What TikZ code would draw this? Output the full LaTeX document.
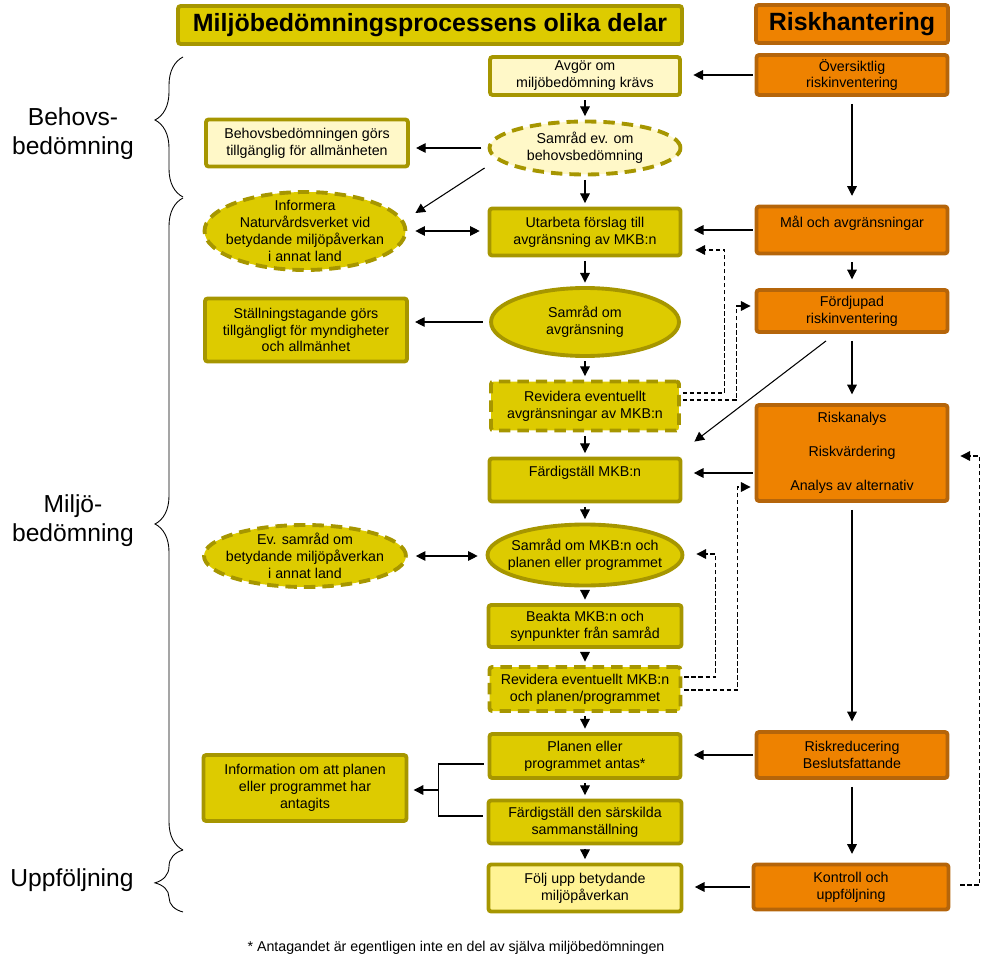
\documentclass[tikz,border=0pt]{standalone}
\usepackage{fontspec}
\setmainfont{Liberation Sans}
\usetikzlibrary{shapes.geometric,arrows.meta,calc,decorations.pathreplacing}
\definecolor{mkbgul}{HTML}{DDCB00}
\definecolor{mkbkant}{HTML}{A69600}
\definecolor{mkbljus}{HTML}{FFF8C8}
\definecolor{mkbljus2}{HTML}{FFF394}
\definecolor{riskorange}{HTML}{EE8200}
\definecolor{riskkant}{HTML}{B5650A}

\begin{document}
\begin{tikzpicture}[x=0.02cm, y=-0.02cm,
    box/.style = {draw=mkbkant, fill=mkbgul, line width=2.2pt, rounded corners=1.5pt, align=center, font=\fontsize{8.1}{9.6}\selectfont, inner sep=1pt},
    ljus/.style = {fill=mkbljus},
    rund/.style = {ellipse, rounded corners=0pt, inner sep=-6pt},
    streckad/.style = {dash pattern=on 6.5pt off 4pt},
    risk/.style = {box, draw=riskkant, fill=riskorange},
    rubrik/.style = {font=\fontsize{14.2}{16}\selectfont\bfseries},
    fas/.style = {align=center, font=\fontsize{14}{16.5}\selectfont},
    pil/.style = {-{Triangle[length=5.5pt,width=5.5pt]}, line width=0.6pt},
    dubbelpil/.style = {{Triangle[length=5.5pt,width=5.5pt]}-{Triangle[length=5.5pt,width=5.5pt]}, line width=0.6pt},
    aterpil/.style = {pil, dash pattern=on 2.5pt off 1.5pt},
    klammer/.style = {decorate, decoration={brace, amplitude=0.56cm, aspect=#1}, line width=0.5pt}]
                \useasboundingbox (0,0) rectangle (1003,966);
                % rubriker
                \node[box, rubrik, minimum width=10.08cm, minimum height=0.76cm] (titel) at (430,25) {Miljöbedömningsprocessens olika delar};
                \node[risk, rubrik, minimum width=3.84cm, minimum height=0.76cm] (riskhant) at (852,24) {Riskhantering};
                % mittkolumnen
                \node[box, ljus, minimum width=3.8cm, minimum height=0.76cm] (avgor) at (585,76) {Avgör om\\miljöbedömning krävs};
                \node[box, rund, ljus, streckad, minimum width=3.82cm, minimum height=1.06cm] (samradev) at (585,148) {Samråd ev. om\\behovsbedömning};
                \node[box, minimum width=3.82cm, minimum height=0.94cm] (utarbeta) at (585,232) {Utarbeta förslag till\\avgränsning av MKB:n};
                \node[box, rund, minimum width=3.76cm, minimum height=1.36cm] (samradavgr) at (585,322) {Samråd om\\avgränsning};
                \node[box, streckad, minimum width=3.76cm, minimum height=0.98cm] (revidera1) at (585,406) {Revidera eventuellt\\avgränsningar av MKB:n};
                \node[box, minimum width=3.82cm, minimum height=0.86cm] (fardigmkb) at (585,480) {Färdigställ MKB:n\\\mbox{}};
                \node[box, rund, minimum width=3.9cm, minimum height=1.22cm] (samradmkb) at (585,555) {Samråd om MKB:n och\\planen eller programmet};
                \node[box, minimum width=3.86cm, minimum height=0.84cm] (beakta) at (585,626) {Beakta MKB:n och\\synpunkter från samråd};
                \node[box, streckad, minimum width=3.82cm, minimum height=0.88cm] (revidera2) at (585,689) {Revidera eventuellt MKB:n\\och planen/programmet};
                \node[box, minimum width=3.82cm, minimum height=0.88cm] (antas) at (585,756) {Planen eller\\programmet antas*};
                \node[box, minimum width=3.86cm, minimum height=0.86cm] (sammanst) at (585,822) {Färdigställ den särskilda\\sammanställning};
                \node[box, fill=mkbljus2, minimum width=3.86cm, minimum height=0.94cm] (foljupp) at (585,888) {Följ upp betydande\\miljöpåverkan};
                % vänsterkolumnen
                \node[box, ljus, minimum width=4.04cm, minimum height=0.94cm] (behovtillg) at (307,143) {Behovsbedömningen görs\\tillgänglig för allmänheten};
                \node[box, rund, streckad, minimum width=4.02cm, minimum height=1.56cm] (informera) at (305,231) {Informera\\Naturvårdsverket vid\\betydande miljöpåverkan\\i annat land};
                \node[box, minimum width=4.04cm, minimum height=1.26cm] (stallning) at (306,330) {Ställningstagande görs\\tillgängligt för myndigheter\\och allmänhet};
                \node[box, rund, streckad, minimum width=4.04cm, minimum height=1.24cm] (evsamrad) at (305,556) {Ev. samråd om\\betydande miljöpåverkan\\i annat land};
                \node[box, minimum width=4.06cm, minimum height=1.32cm] (information) at (305,788) {Information om att planen\\eller programmet har\\antagits};
                % riskkolumnen
                \node[risk, minimum width=3.82cm, minimum height=0.8cm] (oversikt) at (852,75) {Översiktlig\\riskinventering};
                \node[risk, minimum width=3.82cm, minimum height=0.94cm] (malavgr) at (852,230) {Mål och avgränsningar\\\mbox{}};
                \node[risk, minimum width=3.82cm, minimum height=0.84cm] (fordjupad) at (852,311) {Fördjupad\\riskinventering};
                \node[risk, minimum width=3.82cm, minimum height=1.92cm] (riskanalys) at (852,453) {Riskanalys\\[9.6pt]Riskvärdering\\[9.6pt]Analys av alternativ};
                \node[risk, minimum width=3.82cm, minimum height=0.92cm] (riskred) at (852,755) {Riskreducering\\Beslutsfattande};
                \node[risk, minimum width=3.9cm, minimum height=0.9cm] (kontroll) at (851,887) {Kontroll och\\uppföljning};
                % faser
                \node[fas] (behovs) at (73,134) {Behovs-\\bedömning};
                \node[fas] (miljo) at (73,521) {Miljö-\\bedömning};
                \node[fas] (uppf) at (72,880) {Uppföljning};
                \draw[klammer=0.55] (183,197) -- (183,57);
                \draw[klammer=0.5] (183,850) -- (183,198);
                \draw[klammer=0.47] (183,912) -- (183,850);
                \node[font=\fontsize{8.1}{9.6}\selectfont] (fotnot) at (456,948) {* Antagandet är egentligen inte en del av själva miljöbedömningen};
                % pilar
                \path[pil, shorten <=2pt, shorten >=2pt]
                    (avgor) edge (samradev)
                    (samradev) edge (utarbeta)
                    (utarbeta) edge (samradavgr)
                    (samradavgr) edge (revidera1)
                    (revidera1) edge (fardigmkb)
                    (fardigmkb) edge (samradmkb)
                    (samradmkb) edge (beakta)
                    (beakta) edge (revidera2)
                    (revidera2) edge (antas)
                    (antas) edge (sammanst)
                    (sammanst) edge (foljupp);
                \path[pil, shorten <=4pt, shorten >=5pt]
                    (oversikt) edge (malavgr)
                    (malavgr) edge (fordjupad)
                    (fordjupad) edge (riskanalys)
                    (riskanalys) edge (riskred)
                    (riskred.south) edge (riskred.south |- kontroll.north);
                \coordinate (ra) at ($(riskanalys.west)+(0,20)$);
                \path[pil, shorten <=1pt, shorten >=6.5pt]
                    (oversikt.west) edge (oversikt.west -| avgor.east)
                    (malavgr.west) edge (malavgr.west -| utarbeta.east)
                    (ra) edge (ra -| fardigmkb.east)
                    (riskred.west) edge (riskred.west -| antas.east)
                    (kontroll.west) edge (kontroll.west -| foljupp.east);
                \path[pil, shorten <=3.5pt, shorten >=3.5pt]
                    (samradev.west) edge (samradev.west -| behovtillg.east)
                    (samradavgr.west) edge (samradavgr.west -| stallning.east);
                \path[dubbelpil, shorten <=4.5pt, shorten >=4.5pt]
                    (informera.east) edge (informera.east -| utarbeta.west)
                    (evsamrad.east) edge (evsamrad.east -| samradmkb.west);
                \draw[pil] ($(samradev.west)+(-3,20)$) -- ($(informera.east)+(8,-18)$);
                \draw[pil] ($(fordjupad.south)+(-26,7)$) -- ($(fardigmkb.north east)+(12,-15)$);
                % återkoppling
                \draw[aterpil] ($(revidera1.east)+(2,-13)$) -- ++(42,0) |- ($(utarbeta.east)+(13,18)$);
                \draw[aterpil] ($(revidera1.east)+(2,-6)$) -- ++(54,0) |- ($(fordjupad.west)+(-4,-5)$);
                \draw[aterpil] ($(revidera2.east)+(2,-12)$) -- ++(31,0) |- ($(samradmkb.east)+(12,-1)$);
                \draw[aterpil] ($(revidera2.east)+(2,1)$) -- ++(53,0) |- ($(riskanalys.west)+(-4,34)$);
                \draw[aterpil] ($(kontroll.east)+(10,-2)$) -- ++(19,0) |- ($(riskanalys.east)+(11,3)$);
                % antagande
                \coordinate (gren) at ($(information.east)+(30,2)$);
                \draw[line width=0.6pt] ($(antas.west)+(-4,8)$) -| (gren) |- ($(sammanst.west)+(-4,-6)$);
                \draw[pil, shorten >=3pt] (gren) -- (gren -| information.east);
            \end{tikzpicture}
\end{document}
